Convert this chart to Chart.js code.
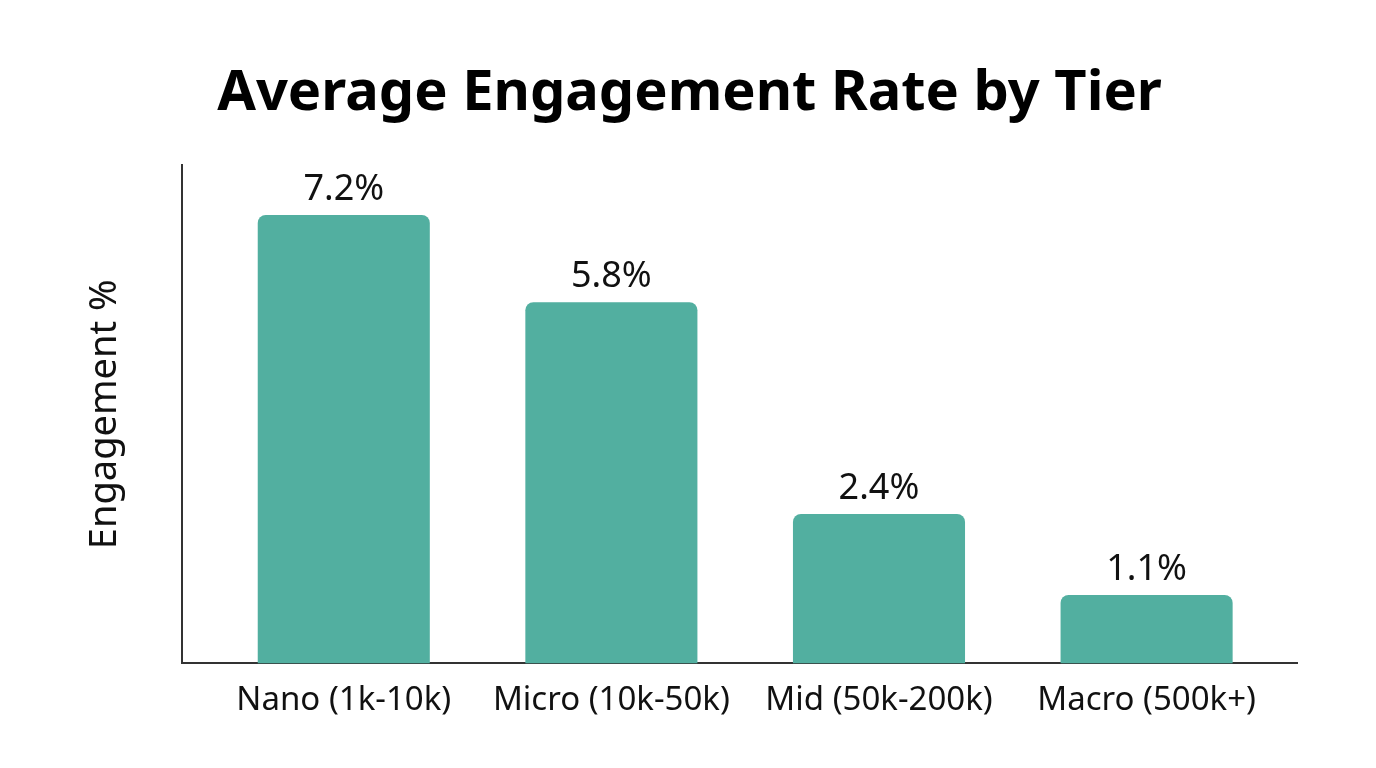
<!DOCTYPE html>
<html>
<head>
<meta charset="utf-8">
<script src="https://cdn.jsdelivr.net/npm/chart.js@4/dist/chart.umd.min.js"></script>
<style>
  body { margin: 0; background: #fff; }
  #wrap { width: 1376px; height: 768px; }
</style>
</head>
<body>
<div id="wrap"><canvas id="tierChart"></canvas></div>
<script>
Chart.defaults.font.family = "'Noto Sans', sans-serif";
Chart.defaults.color = '#111';

const tiers = ['Nano (1k-10k)', 'Micro (10k-50k)', 'Mid (50k-200k)', 'Macro (500k+)'];
const engagement = [7.2, 5.8, 2.4, 1.1];

// value labels above each bar
const barLabels = {
    id: 'barLabels',
    afterDatasetsDraw(chart) {
        const ctx = chart.ctx;
        const meta = chart.getDatasetMeta(0);
        ctx.save();
        ctx.font = "36px 'Noto Sans', sans-serif";
        ctx.fillStyle = '#111';
        ctx.textAlign = 'center';
        ctx.textBaseline = 'alphabetic';
        meta.data.forEach((bar, i) => {
            ctx.fillText(engagement[i] + '%', bar.x, bar.y - 15);
        });
        ctx.restore();
    }
};

const data = {
    datasets: [{
        data: engagement.map((v, i) => ({ x: i, y: v })),
        backgroundColor: '#52afa0',
        borderRadius: 8,
        barPercentage: 0.643,
        categoryPercentage: 1
    }]
};

const options = {
    responsive: true,
    maintainAspectRatio: false,
    animation: false,
    layout: { padding: { left: 82, right: 79, top: 0, bottom: 39 } },
    plugins: {
        legend: { display: false },
        tooltip: { enabled: false },
        title: {
            display: true,
            text: 'Average Engagement Rate by Tier',
            color: '#000',
            font: { size: 56, weight: 'bold' },
            padding: { top: 60, bottom: 38 }
        }
    },
    scales: {
        x: {
            type: 'linear',
            offset: false,
            min: -0.606,
            max: 3.562,
            grid: { display: false, offset: false },
            border: { display: true, color: '#333', width: 2 },
            afterBuildTicks: axis => { axis.ticks = tiers.map((t, i) => ({ value: i })); },
            ticks: {
                autoSkip: false,
                maxRotation: 0,
                padding: 9,
                font: { size: 33 },
                color: '#111',
                callback: value => tiers[value]
            }
        },
        y: {
            min: 0,
            max: 8,
            grid: { display: false },
            border: { display: true, color: '#333', width: 2 },
            ticks: { display: false },
            title: {
                display: true,
                text: 'Engagement %',
                color: '#111',
                font: { size: 38 },
                padding: { top: 0, bottom: 46 }
            }
        }
    }
};

new Chart('tierChart', { type: 'bar', data, options, plugins: [barLabels] });
</script>
</body>
</html>
